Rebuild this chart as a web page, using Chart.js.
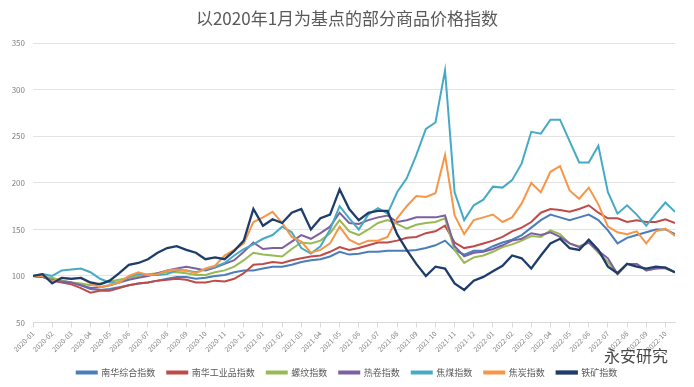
<!DOCTYPE html>
<html>
<head>
<meta charset="utf-8">
<script src="https://cdn.jsdelivr.net/npm/chart.js@4.4.0/dist/chart.umd.min.js"></script>
<style>
  html, body { margin: 0; padding: 0; background: #fff; }
</style>
</head>
<body>
<canvas id="chart" width="694" height="387"></canvas>
<script>
// month tick labels (one tick per month)
const months = [
  '2020-01','2020-02','2020-03','2020-04','2020-05','2020-06','2020-07','2020-08','2020-09','2020-10','2020-11','2020-12',
  '2021-01','2021-02','2021-03','2021-04','2021-05','2021-06','2021-07','2021-08','2021-09','2021-10','2021-11','2021-12',
  '2022-01','2022-02','2022-03','2022-04','2022-05','2022-06','2022-07','2022-08','2022-09','2022-10'
];

const seriesNames = ['南华综合指数', '南华工业品指数', '螺纹指数', '热卷指数', '焦煤指数', '焦炭指数', '铁矿指数'];

// index values, read twice a month starting 2020-01
const nanhuaComposite = [
  100, 99, 97, 95, 93, 90, 86, 85, 86, 88,
  90, 92, 93, 95, 97, 99, 99, 97, 98, 100,
  101, 104, 106, 106, 108, 110, 110, 112, 115, 117,
  118, 121, 126, 123, 124, 126, 126, 127, 127, 127,
  128, 130, 133, 138, 128, 123, 127, 127, 132, 136,
  139, 144, 152, 160, 166, 163, 160, 163, 166, 160,
  149, 135, 141, 144, 147, 150, 150, 145
];
const nanhuaIndustrial = [
  100, 99, 95, 93, 91, 87, 82, 84, 84, 87,
  90, 92, 93, 95, 96, 97, 96, 93, 93, 95,
  94, 97, 103, 112, 113, 115, 114, 117, 119, 121,
  122, 126, 131, 128, 130, 133, 136, 136, 138, 141,
  142, 146, 148, 154, 136, 130, 132, 135, 138, 142,
  148, 152, 158, 168, 172, 171, 169, 172, 176, 168,
  162, 162, 158, 160, 158, 158, 161, 157
];
const rebar = [
  100, 99, 98, 95, 93, 92, 90, 92, 94, 96,
  98, 100, 102, 103, 104, 104, 103, 101, 101, 104,
  106, 110, 117, 125, 123, 122, 121, 129, 136, 135,
  138, 146, 160, 148, 144, 150, 157, 160, 156, 151,
  155, 157, 158, 162, 128, 114, 120, 122, 126, 131,
  134, 138, 143, 142, 149, 145, 135, 132, 136, 125,
  115, 102, 113, 113, 106, 108, 108, 104
];
const hotCoil = [
  100, 99, 95, 94, 93, 90, 87, 88, 90, 93,
  96, 98, 100, 103, 106, 108, 110, 108, 106, 109,
  113, 117, 126, 136, 129, 130, 130, 137, 144, 140,
  146, 153, 168, 157, 156, 160, 163, 165, 158, 160,
  163, 163, 163, 165, 132, 121, 125, 126, 129, 133,
  138, 140, 146, 144, 147, 142, 135, 131, 136, 127,
  119, 102, 113, 113, 106, 108, 109, 104
];
const cokingCoal = [
  100, 102, 100, 106, 107, 108, 104, 97, 93, 93,
  99, 102, 101, 101, 102, 106, 106, 104, 107, 110,
  114, 122, 129, 134, 140, 144, 153, 147, 130, 124,
  132, 150, 175, 162, 150, 166, 173, 167, 190, 205,
  230, 258, 265, 321, 190, 160, 176, 182, 196, 195,
  203, 221, 255, 253, 268, 268, 245, 222, 222, 240,
  190, 167, 176, 166, 154, 167, 179, 169
];
const coke = [
  100, 100, 94, 98, 97, 98, 92, 88, 90, 93,
  100, 104, 101, 102, 106, 107, 106, 103, 108, 111,
  122, 128, 135, 158, 163, 169, 157, 142, 137, 125,
  128, 135, 153, 139, 134, 138, 138, 142, 162, 175,
  186, 185, 189, 230, 165, 145, 160, 163, 166, 158,
  163, 178, 200, 190, 212, 218, 192, 183, 195, 177,
  153, 147, 145, 148, 135, 148, 151, 143
];
const ironOre = [
  100, 102, 92, 98, 97, 98, 93, 91, 95, 103,
  112, 114, 118, 125, 130, 132, 128, 125, 118, 120,
  118, 127, 138, 172, 154, 161, 157, 168, 172, 150,
  162, 166, 193, 172, 160, 168, 170, 170, 145, 128,
  113, 100, 110, 108, 92, 85, 95, 99, 105, 111,
  122, 119, 108, 122, 135, 140, 130, 128, 139, 128,
  110, 103, 113, 110, 108, 110, 109, 104
];

const seriesValues = [nanhuaComposite, nanhuaIndustrial, rebar, hotCoil, cokingCoal, coke, ironOre];
const seriesColors = ['#4a7ebb', '#be4b48', '#98b954', '#7d60a0', '#46aac5', '#f79646', '#1f3d6b'];

Chart.defaults.font.family = '"Noto Sans CJK SC", "Noto Sans", sans-serif';

const datasets = seriesValues.map((vals, k) => ({
  label: seriesNames[k],
  data: vals.map((v, i) => ({ x: i / 2, y: v })),
  borderColor: seriesColors[k],
  backgroundColor: seriesColors[k],
  borderWidth: k === 6 ? 2.3 : 2,
  pointRadius: 0,
  tension: 0,
  order: seriesValues.length - k
}));

// watermark in the lower right corner
const watermark = {
  id: 'watermark',
  afterDraw(chart) {
    const ctx = chart.ctx;
    ctx.save();
    ctx.fillStyle = 'rgba(40,40,40,0.85)';
    ctx.font = '16px "Noto Sans CJK SC"';
    ctx.textBaseline = 'middle';
    ctx.fillText('永安研究', 604, 356);
    ctx.restore();
  }
};

new Chart(document.getElementById('chart'), {
  type: 'line',
  data: { datasets },
  plugins: [watermark],
  options: {
    responsive: false,
    animation: false,
    devicePixelRatio: 1,
    layout: { padding: { left: 0, right: 0, top: 0, bottom: 0 } },
    plugins: {
      title: {
        display: true,
        text: '以2020年1月为基点的部分商品价格指数',
        color: '#595959',
        font: { size: 17, weight: 'normal' },
        padding: { top: 8, bottom: 15 }
      },
      legend: {
        position: 'bottom',
        labels: {
          boxWidth: 20,
          boxHeight: 2,
          padding: 12,
          color: '#595959',
          font: { size: 9 },
          sort: (a, b) => a.datasetIndex - b.datasetIndex
        }
      },
      tooltip: { enabled: false }
    },
    scales: {
      x: {
        type: 'linear',
        min: 0,
        max: 33.5,
        grid: { drawOnChartArea: false, color: '#d9d9d9', tickLength: 5 },
        border: { color: '#d9d9d9' },
        ticks: {
          stepSize: 1,
          includeBounds: false,
          autoSkip: false,
          minRotation: 45,
          maxRotation: 45,
          color: '#7f7f7f',
          font: { size: 7 },
          padding: 2,
          callback: v => months[v] ?? ''
        },
        afterFit: s => { s.height = 33.5; }
      },
      y: {
        min: 50,
        max: 350,
        grid: { color: '#e3e3e3', drawTicks: false },
        border: { display: false },
        ticks: { stepSize: 50, color: '#7f7f7f', font: { size: 8 }, padding: 8 },
        afterFit: s => { s.width = 33; }
      },
      yRight: {
        position: 'right',
        grid: { display: false, drawTicks: false },
        border: { display: false },
        ticks: { display: false },
        afterFit: s => { s.width = 19; }
      }
    }
  }
});
</script>
</body>
</html>
